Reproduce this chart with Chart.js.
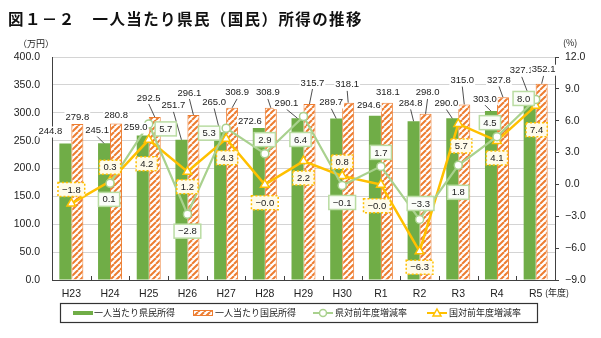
<!DOCTYPE html>
<html lang="ja">
<head>
<meta charset="utf-8">
<script src="https://cdn.jsdelivr.net/npm/chart.js@4.4.1/dist/chart.umd.min.js"></script>
<style>
  html, body { margin: 0; padding: 0; background: #fff; }
  #wrap { position: relative; width: 601px; height: 338px; }
  #title {
    position: absolute; left: 8px; top: 7px;
    font-family: "Noto Sans CJK JP", sans-serif; font-weight: 700;
    font-size: 15.5px; letter-spacing: 1.4px; color: #111; white-space: nowrap;
  }
  canvas { position: absolute; left: 0; top: 0; }
</style>
</head>
<body>
<div id="wrap">
  <canvas id="chart" width="601" height="338"></canvas>
  <div id="title">図１－２　一人当たり県民（国民）所得の推移</div>
</div>
<script>
// data
const years = ['H23', 'H24', 'H25', 'H26', 'H27', 'H28', 'H29', 'H30', 'R1', 'R2', 'R3', 'R4', 'R5'];
const prefIncome = [244.8, 245.1, 259.0, 251.7, 265.0, 272.6, 290.1, 289.7, 294.6, 284.8, 290.0, 303.0, 327.1];
const natIncome = [279.8, 280.8, 292.5, 296.1, 308.9, 308.9, 315.7, 318.1, 318.1, 298.0, 315.0, 327.8, 352.1];
const prefRate = [null, 0.1, 5.7, -2.8, 5.3, 2.9, 6.4, -0.1, 1.7, -3.3, 1.8, 4.5, 8.0];
const natRate = [-1.8, 0.3, 4.2, 1.2, 4.3, -0.02, 2.2, 0.8, -0.02, -6.3, 5.7, 4.1, 7.4];

const seriesNames = ['一人当たり県民所得', '一人当たり国民所得', '県対前年度増減率', '国対前年度増減率'];

// label offsets in px from the mark (bar top / point)
const prefIncomeLabelOff = [[-15,-12],[-7,-13],[-7,-8],[-8,-34],[-6,-30],[-9,-7],[-11,-15],[-5,-16],[-6,-10],[-3,-18],[-6,-15],[-6,-12],[-8,-27]];
const natIncomeLabelOff = [[0,-7],[0,-8],[-6,-19],[-4,-22],[5,-15],[-3,-15],[3,-21],[-1,-18],[1,-10],[2,-21],[-2,-24],[-4,-17],[2,-14]];
const prefRateLabelOff = [null,[-1,16],[17,5],[0,17],[-17,5],[0,-14],[-3,23],[0,17],[0,-14],[1,-16],[0,27],[-7,-14],[-12,-1]];
const natRateLabelOff = [[0,-14],[0,-14],[-2,24],[0,15],[1,19],[0,18],[0,17],[0,-14],[-4,21],[0,16],[3,22],[0,17],[1,24]];

const GREEN = '#70ad47';
const ORANGE = '#ed7d31';
const LIGHTGREEN = '#a9d18e';
const YELLOW = '#ffc000';
const NUMFONT = "'Liberation Sans', Arial, sans-serif";
const JPFONT = "'Noto Sans CJK JP', sans-serif";

function makeHatch() {
  const c = document.createElement('canvas');
  c.width = 6; c.height = 6;
  const g = c.getContext('2d');
  g.fillStyle = '#fff';
  g.fillRect(0, 0, 6, 6);
  g.strokeStyle = ORANGE;
  g.lineWidth = 2;
  [-6, 0, 6].forEach(o => {
    g.beginPath();
    g.moveTo(o, 6);
    g.lineTo(o + 6, 0);
    g.stroke();
  });
  return g.createPattern(c, 'repeat');
}
const hatch = makeHatch();

function fmtRate(v) {
  return (v < 0 ? '\u2212' : '') + Math.abs(v).toFixed(1);
}

// value labels, leader lines, inward x ticks
const labelsPlugin = {
  id: 'labels',
  afterDatasetsDraw(chart) {
    const ctx = chart.ctx;
    const area = chart.chartArea;
    const xs = chart.scales.x;

    ctx.save();
    // small inward ticks between categories
    ctx.strokeStyle = '#404040';
    ctx.lineWidth = 1;
    for (let i = 1; i < years.length; i++) {
      const x = Math.round((xs.getPixelForValue(i - 1) + xs.getPixelForValue(i)) / 2) + 0.5;
      ctx.beginPath();
      ctx.moveTo(x, area.bottom - 4);
      ctx.lineTo(x, area.bottom);
      ctx.stroke();
    }

    // bar labels
    ctx.font = '9.5px ' + NUMFONT;
    ctx.textAlign = 'center';
    ctx.textBaseline = 'middle';
    [[0, prefIncome, prefIncomeLabelOff], [1, natIncome, natIncomeLabelOff]].forEach(([di, vals, offs]) => {
      const meta = chart.getDatasetMeta(di);
      vals.forEach((v, i) => {
        const bar = meta.data[i];
        const lx = bar.x + offs[i][0];
        const ly = bar.y + offs[i][1];
        const txt = v.toFixed(1);
        const w = ctx.measureText(txt).width;
        if (offs[i][1] <= -12 && i > 0) {
          ctx.strokeStyle = '#222';
          ctx.lineWidth = 0.8;
          ctx.beginPath();
          ctx.moveTo(lx, ly + 6);
          ctx.lineTo(bar.x, bar.y);
          ctx.stroke();
        }
        ctx.fillStyle = '#fff';
        ctx.fillRect(lx - w / 2 - 1, ly - 5, w + 2, 11);
        ctx.fillStyle = '#222';
        ctx.fillText(txt, lx, ly);
      });
    });

    // rate labels in boxes
    [[3, natRate, natRateLabelOff, 'nat'], [2, prefRate, prefRateLabelOff, 'pref']].forEach(([di, vals, offs, kind]) => {
      const meta = chart.getDatasetMeta(di);
      vals.forEach((v, i) => {
        if (v === null) return;
        const pt = meta.data[i];
        const lx = pt.x + offs[i][0];
        const ly = pt.y + offs[i][1];
        const txt = fmtRate(v);
        const w = ctx.measureText(txt).width + 8;
        const h = 14;
        if (kind === 'pref') {
          ctx.fillStyle = '#fbfdf9';
          ctx.strokeStyle = '#b9dca2';
          ctx.setLineDash([]);
        } else {
          ctx.fillStyle = '#fffbea';
          ctx.strokeStyle = YELLOW;
          ctx.setLineDash([2, 2]);
        }
        ctx.lineWidth = 1.5;
        ctx.fillRect(lx - w / 2, ly - h / 2, w, h);
        ctx.strokeRect(lx - w / 2, ly - h / 2, w, h);
        ctx.setLineDash([]);
        ctx.fillStyle = '#222';
        ctx.fillText(txt, lx, ly + 0.5);
      });
    });
    ctx.restore();
  },
  afterDraw(chart) {
    const ctx = chart.ctx;
    ctx.save();
    ctx.fillStyle = '#222';
    ctx.textBaseline = 'middle';
    ctx.font = '9px ' + JPFONT;
    ctx.textAlign = 'left';
    ctx.fillText('（万円）', 18, 44);
    ctx.fillText('(%)', 563, 43);
    ctx.fillText('(年度)', 545, 293);

    // legend
    ctx.strokeStyle = '#333';
    ctx.lineWidth = 1.2;
    ctx.strokeRect(60.5, 303.5, 477, 19);
    const ly = 313;
    ctx.fillStyle = GREEN;
    ctx.fillRect(73, ly - 2, 20, 4);
    ctx.fillStyle = hatch;
    ctx.fillRect(193, ly - 2.5, 20, 5);
    ctx.strokeStyle = ORANGE;
    ctx.lineWidth = 1;
    ctx.strokeRect(193.5, ly - 2.5, 19, 5);

    ctx.strokeStyle = LIGHTGREEN;
    ctx.lineWidth = 2;
    ctx.beginPath(); ctx.moveTo(313, ly); ctx.lineTo(333, ly); ctx.stroke();
    ctx.fillStyle = '#fff';
    ctx.lineWidth = 1.5;
    ctx.beginPath(); ctx.arc(323, ly, 3.5, 0, Math.PI * 2); ctx.fill(); ctx.stroke();

    ctx.strokeStyle = YELLOW;
    ctx.lineWidth = 2;
    ctx.beginPath(); ctx.moveTo(427, ly); ctx.lineTo(447, ly); ctx.stroke();
    ctx.lineWidth = 1.5;
    ctx.beginPath(); ctx.moveTo(437, ly - 4); ctx.lineTo(441, ly + 3); ctx.lineTo(433, ly + 3); ctx.closePath();
    ctx.fill(); ctx.stroke();

    ctx.fillStyle = '#222';
    ctx.font = '9px ' + JPFONT;
    ctx.fillText(seriesNames[0], 94, ly);
    ctx.fillText(seriesNames[1], 215, ly);
    ctx.fillText(seriesNames[2], 335, ly);
    ctx.fillText(seriesNames[3], 449, ly);
    ctx.restore();
  }
};

const chart = new Chart(document.getElementById('chart'), {
  data: {
    labels: years,
    datasets: [
      {
        type: 'bar', label: seriesNames[0], data: prefIncome, yAxisID: 'y',
        backgroundColor: GREEN, borderWidth: 0,
        barPercentage: 1, categoryPercentage: 0.62, order: 2
      },
      {
        type: 'bar', label: seriesNames[1], data: natIncome, yAxisID: 'y',
        backgroundColor: hatch, borderColor: ORANGE, borderWidth: 1,
        barPercentage: 1, categoryPercentage: 0.62, order: 3
      },
      {
        type: 'line', label: seriesNames[2], data: prefRate, yAxisID: 'y1',
        borderColor: LIGHTGREEN, borderWidth: 2.2, tension: 0, spanGaps: false,
        pointStyle: 'circle', pointRadius: 4, pointBackgroundColor: '#fff',
        pointBorderColor: LIGHTGREEN, pointBorderWidth: 1.5, order: 0
      },
      {
        type: 'line', label: seriesNames[3], data: natRate, yAxisID: 'y1',
        borderColor: YELLOW, borderWidth: 2.5, tension: 0,
        pointStyle: 'triangle', pointRadius: 5, pointBackgroundColor: '#fff',
        pointBorderColor: YELLOW, pointBorderWidth: 1.5, order: 1
      }
    ]
  },
  options: {
    responsive: false,
    animation: false,
    layout: { padding: { top: 57, left: 0, right: 0, bottom: 0 } },
    plugins: { legend: { display: false }, tooltip: { enabled: false } },
    scales: {
      x: {
        offset: true,
        grid: { display: false },
        border: { color: '#404040', width: 1 },
        ticks: { color: '#222', font: { family: NUMFONT, size: 10.5 }, padding: 0, maxRotation: 0 },
        afterFit: s => { s.height = 58; }
      },
      y: {
        position: 'left', min: 0, max: 400,
        grid: { color: '#d4d4d4', drawTicks: false },
        border: { color: '#404040', width: 1 },
        ticks: { stepSize: 50, padding: 12, color: '#222', font: { family: NUMFONT, size: 10.5 },
                 callback: v => v.toFixed(1) },
        afterFit: s => { s.width = 52; }
      },
      y1: {
        position: 'right', min: -9, max: 12,
        grid: { drawOnChartArea: false, tickLength: 4, color: '#404040' },
        border: { color: '#404040', width: 1 },
        ticks: { stepSize: 3, padding: 6, color: '#222', font: { family: NUMFONT, size: 10.5 },
                 callback: v => (v < 0 ? '\u2212' : '') + Math.abs(v).toFixed(1) },
        afterFit: s => { s.width = 46; }
      }
    }
  },
  plugins: [labelsPlugin]
});
</script>
</body>
</html>
